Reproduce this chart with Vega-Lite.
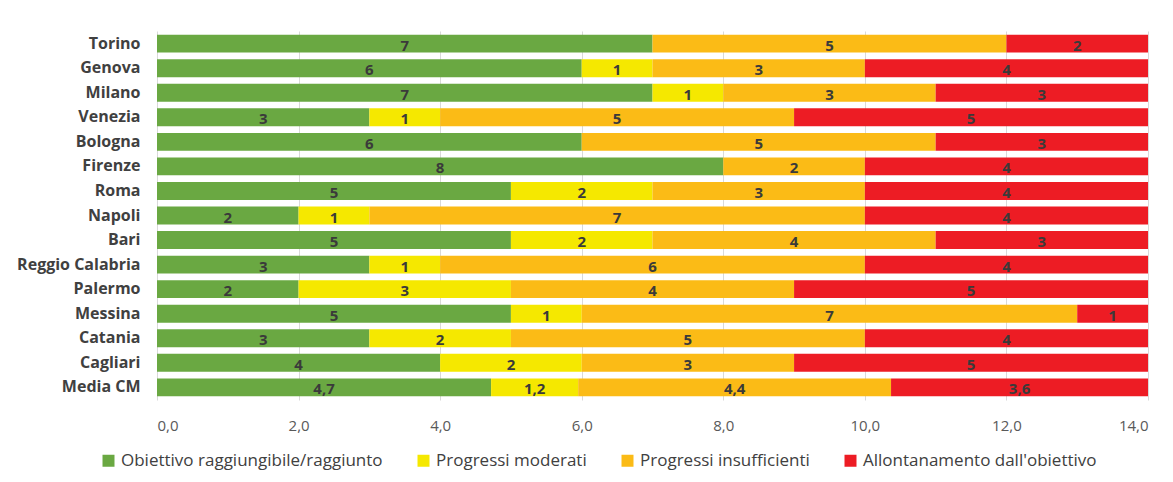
{
  "$schema": "https://vega.github.io/schema/vega-lite/v6.json",
  "autosize": "none",
  "width": 991,
  "height": 369,
  "padding": {"left": 157, "top": 31, "right": 25, "bottom": 82},
  "background": "white",
  "config": {
    "locale": {"number": {"decimal": ",", "thousands": ".", "grouping": [3], "currency": ["€", ""]}},
    "view": {"stroke": null},
    "font": "Open Sans"
  },
  "data": {
    "values": [
      {"city": "Torino", "cat": "Obiettivo raggiungibile/raggiunto", "o": 1, "v": 7},
      {"city": "Torino", "cat": "Progressi moderati", "o": 2, "v": 0},
      {"city": "Torino", "cat": "Progressi insufficienti", "o": 3, "v": 5},
      {"city": "Torino", "cat": "Allontanamento dall'obiettivo", "o": 4, "v": 2},
      {"city": "Genova", "cat": "Obiettivo raggiungibile/raggiunto", "o": 1, "v": 6},
      {"city": "Genova", "cat": "Progressi moderati", "o": 2, "v": 1},
      {"city": "Genova", "cat": "Progressi insufficienti", "o": 3, "v": 3},
      {"city": "Genova", "cat": "Allontanamento dall'obiettivo", "o": 4, "v": 4},
      {"city": "Milano", "cat": "Obiettivo raggiungibile/raggiunto", "o": 1, "v": 7},
      {"city": "Milano", "cat": "Progressi moderati", "o": 2, "v": 1},
      {"city": "Milano", "cat": "Progressi insufficienti", "o": 3, "v": 3},
      {"city": "Milano", "cat": "Allontanamento dall'obiettivo", "o": 4, "v": 3},
      {"city": "Venezia", "cat": "Obiettivo raggiungibile/raggiunto", "o": 1, "v": 3},
      {"city": "Venezia", "cat": "Progressi moderati", "o": 2, "v": 1},
      {"city": "Venezia", "cat": "Progressi insufficienti", "o": 3, "v": 5},
      {"city": "Venezia", "cat": "Allontanamento dall'obiettivo", "o": 4, "v": 5},
      {"city": "Bologna", "cat": "Obiettivo raggiungibile/raggiunto", "o": 1, "v": 6},
      {"city": "Bologna", "cat": "Progressi moderati", "o": 2, "v": 0},
      {"city": "Bologna", "cat": "Progressi insufficienti", "o": 3, "v": 5},
      {"city": "Bologna", "cat": "Allontanamento dall'obiettivo", "o": 4, "v": 3},
      {"city": "Firenze", "cat": "Obiettivo raggiungibile/raggiunto", "o": 1, "v": 8},
      {"city": "Firenze", "cat": "Progressi moderati", "o": 2, "v": 0},
      {"city": "Firenze", "cat": "Progressi insufficienti", "o": 3, "v": 2},
      {"city": "Firenze", "cat": "Allontanamento dall'obiettivo", "o": 4, "v": 4},
      {"city": "Roma", "cat": "Obiettivo raggiungibile/raggiunto", "o": 1, "v": 5},
      {"city": "Roma", "cat": "Progressi moderati", "o": 2, "v": 2},
      {"city": "Roma", "cat": "Progressi insufficienti", "o": 3, "v": 3},
      {"city": "Roma", "cat": "Allontanamento dall'obiettivo", "o": 4, "v": 4},
      {"city": "Napoli", "cat": "Obiettivo raggiungibile/raggiunto", "o": 1, "v": 2},
      {"city": "Napoli", "cat": "Progressi moderati", "o": 2, "v": 1},
      {"city": "Napoli", "cat": "Progressi insufficienti", "o": 3, "v": 7},
      {"city": "Napoli", "cat": "Allontanamento dall'obiettivo", "o": 4, "v": 4},
      {"city": "Bari", "cat": "Obiettivo raggiungibile/raggiunto", "o": 1, "v": 5},
      {"city": "Bari", "cat": "Progressi moderati", "o": 2, "v": 2},
      {"city": "Bari", "cat": "Progressi insufficienti", "o": 3, "v": 4},
      {"city": "Bari", "cat": "Allontanamento dall'obiettivo", "o": 4, "v": 3},
      {"city": "Reggio Calabria", "cat": "Obiettivo raggiungibile/raggiunto", "o": 1, "v": 3},
      {"city": "Reggio Calabria", "cat": "Progressi moderati", "o": 2, "v": 1},
      {"city": "Reggio Calabria", "cat": "Progressi insufficienti", "o": 3, "v": 6},
      {"city": "Reggio Calabria", "cat": "Allontanamento dall'obiettivo", "o": 4, "v": 4},
      {"city": "Palermo", "cat": "Obiettivo raggiungibile/raggiunto", "o": 1, "v": 2},
      {"city": "Palermo", "cat": "Progressi moderati", "o": 2, "v": 3},
      {"city": "Palermo", "cat": "Progressi insufficienti", "o": 3, "v": 4},
      {"city": "Palermo", "cat": "Allontanamento dall'obiettivo", "o": 4, "v": 5},
      {"city": "Messina", "cat": "Obiettivo raggiungibile/raggiunto", "o": 1, "v": 5},
      {"city": "Messina", "cat": "Progressi moderati", "o": 2, "v": 1},
      {"city": "Messina", "cat": "Progressi insufficienti", "o": 3, "v": 7},
      {"city": "Messina", "cat": "Allontanamento dall'obiettivo", "o": 4, "v": 1},
      {"city": "Catania", "cat": "Obiettivo raggiungibile/raggiunto", "o": 1, "v": 3},
      {"city": "Catania", "cat": "Progressi moderati", "o": 2, "v": 2},
      {"city": "Catania", "cat": "Progressi insufficienti", "o": 3, "v": 5},
      {"city": "Catania", "cat": "Allontanamento dall'obiettivo", "o": 4, "v": 4},
      {"city": "Cagliari", "cat": "Obiettivo raggiungibile/raggiunto", "o": 1, "v": 4},
      {"city": "Cagliari", "cat": "Progressi moderati", "o": 2, "v": 2},
      {"city": "Cagliari", "cat": "Progressi insufficienti", "o": 3, "v": 3},
      {"city": "Cagliari", "cat": "Allontanamento dall'obiettivo", "o": 4, "v": 5},
      {"city": "Media CM", "cat": "Obiettivo raggiungibile/raggiunto", "o": 1, "v": 4.72},
      {"city": "Media CM", "cat": "Progressi moderati", "o": 2, "v": 1.23},
      {"city": "Media CM", "cat": "Progressi insufficienti", "o": 3, "v": 4.42},
      {"city": "Media CM", "cat": "Allontanamento dall'obiettivo", "o": 4, "v": 3.63}
    ]
  },
  "transform": [
    {"stack": "v", "groupby": ["city"], "sort": [{"field": "o", "order": "ascending"}], "as": ["x0", "x1"]},
    {"calculate": "(datum.x0 + datum.x1) / 2", "as": "xm"}
  ],
  "encoding": {
    "y": {
      "field": "city",
      "type": "nominal",
      "sort": null,
      "scale": {"paddingInner": 0.27, "paddingOuter": 0.15},
      "axis": {
        "title": null,
        "domain": false,
        "ticks": false,
        "labelPadding": 17,
        "labelFont": "Open Sans",
        "labelFontSize": 16,
        "labelFontWeight": "bold",
        "labelColor": "#404040",
        "labelLimit": 200
      }
    }
  },
  "layer": [
    {
      "mark": {"type": "bar"},
      "encoding": {
        "x": {
          "field": "x0",
          "type": "quantitative",
          "scale": {"domain": [0, 14], "nice": false},
          "axis": {
            "title": null,
            "values": [0, 2, 4, 6, 8, 10, 12, 14],
            "format": ".1f",
            "domain": false,
            "ticks": false,
            "grid": true,
            "gridColor": "#d9d9d9",
            "gridWidth": 1,
            "labelPadding": 18,
            "labelFont": "Open Sans",
            "labelFontSize": 15,
            "labelColor": "#595959"
          }
        },
        "x2": {"field": "x1"},
        "color": {
          "field": "cat",
          "type": "nominal",
          "scale": {
            "domain": ["Obiettivo raggiungibile/raggiunto", "Progressi moderati", "Progressi insufficienti", "Allontanamento dall'obiettivo"],
            "range": ["#6aa842", "#f5e800", "#fbbb16", "#ed1c24"]
          },
          "legend": {
            "title": null,
            "orient": "none",
            "direction": "horizontal",
            "legendX": -57,
            "legendY": 421,
            "symbolType": "square",
            "symbolSize": 144,
            "symbolStrokeWidth": 0,
            "labelFont": "Open Sans",
            "labelFontSize": 17,
            "labelColor": "#404040",
            "labelLimit": 400,
            "labelOffset": 4,
            "columnPadding": 32
          }
        }
      }
    },
    {
      "transform": [{"filter": "datum.v > 0"}],
      "mark": {"type": "text", "fontSize": 15, "fontWeight": "bold", "color": "#3a3a3a", "font": "Open Sans", "dy": 2},
      "encoding": {
        "x": {"field": "xm", "type": "quantitative"},
        "text": {"field": "v", "type": "quantitative", "format": ".2~r"}
      }
    }
  ]
}
